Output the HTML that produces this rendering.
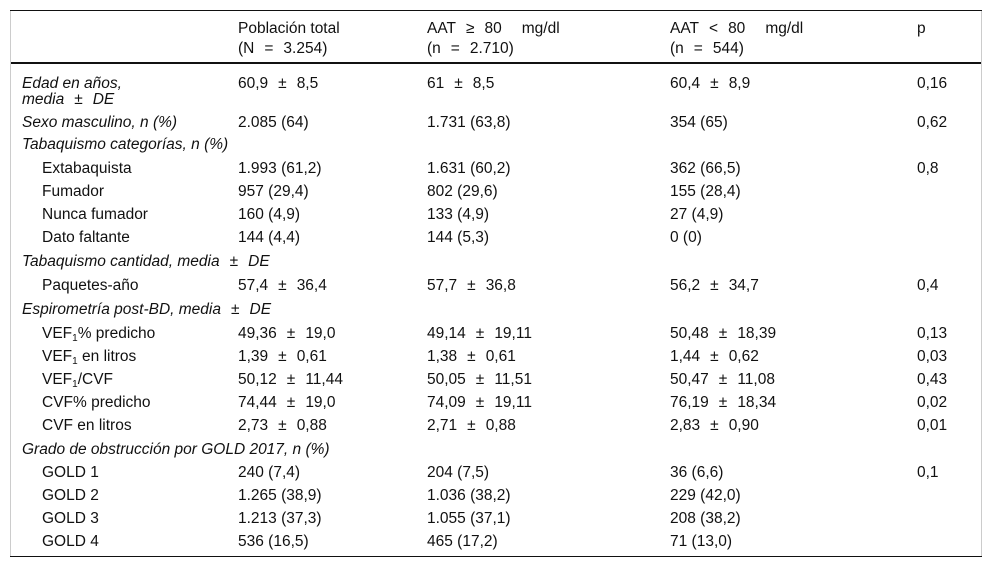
<!DOCTYPE html>
<html><head><meta charset="utf-8">
<style>
body{margin:0;width:992px;height:570px;background:#fff;position:relative;font-family:"Liberation Sans",sans-serif;font-size:15.5px;color:#111;overflow:hidden}
.r{position:absolute;line-height:16px;white-space:nowrap}
.g{margin:0 10px}
.in{padding-left:20px}
.line{position:absolute;background:#111}
sub{font-size:10px;vertical-align:-3px;line-height:0}
#t{position:absolute;left:0;top:2px}
</style></head><body>
<div class="line" style="left:10px;top:10px;width:972px;height:1px"></div>
<div class="line" style="left:10px;top:62px;width:972px;height:2px"></div>
<div class="line" style="left:10px;top:556px;width:972px;height:1px"></div>
<div class="line" style="left:10px;top:11px;width:1px;height:545px;background:#ccc"></div>
<div class="line" style="left:981px;top:11px;width:1px;height:545px;background:#ccc"></div>
<div id="t"></div>
<script>
const X=[22,238,427,670,917];
const I='<span class=in></span>';
const rows=[
 [19,["","Población total","AAT<span class=g>≥</span>80<span class=g></span>mg/dl","AAT<span class=g>&lt;</span>80<span class=g></span>mg/dl","p"]],
 [39,["","(N<span class=g>=</span>3.254)","(n<span class=g>=</span>2.710)","(n<span class=g>=</span>544)",""]],
 [74,["<i>Edad en años,</i>","60,9<span class=g>±</span>8,5","61<span class=g>±</span>8,5","60,4<span class=g>±</span>8,9","0,16"]],
 [90,["<i>media<span class=g>±</span>DE</i>","","","",""]],
 [113,["<i>Sexo masculino, n (%)</i>","2.085 (64)","1.731 (63,8)","354 (65)","0,62"]],
 [135,["<i>Tabaquismo categorías, n (%)</i>","","","",""]],
 [159,[I+"Extabaquista","1.993 (61,2)","1.631 (60,2)","362 (66,5)","0,8"]],
 [182,[I+"Fumador","957 (29,4)","802 (29,6)","155 (28,4)",""]],
 [205,[I+"Nunca fumador","160 (4,9)","133 (4,9)","27 (4,9)",""]],
 [228,[I+"Dato faltante","144 (4,4)","144 (5,3)","0 (0)",""]],
 [252,["<i>Tabaquismo cantidad, media<span class=g>±</span>DE</i>","","","",""]],
 [276,[I+"Paquetes-año","57,4<span class=g>±</span>36,4","57,7<span class=g>±</span>36,8","56,2<span class=g>±</span>34,7","0,4"]],
 [300,["<i>Espirometría post-BD, media<span class=g>±</span>DE</i>","","","",""]],
 [324,[I+"VEF<sub>1</sub>% predicho","49,36<span class=g>±</span>19,0","49,14<span class=g>±</span>19,11","50,48<span class=g>±</span>18,39","0,13"]],
 [347,[I+"VEF<sub>1</sub> en litros","1,39<span class=g>±</span>0,61","1,38<span class=g>±</span>0,61","1,44<span class=g>±</span>0,62","0,03"]],
 [370,[I+"VEF<sub>1</sub>/CVF","50,12<span class=g>±</span>11,44","50,05<span class=g>±</span>11,51","50,47<span class=g>±</span>11,08","0,43"]],
 [393,[I+"CVF% predicho","74,44<span class=g>±</span>19,0","74,09<span class=g>±</span>19,11","76,19<span class=g>±</span>18,34","0,02"]],
 [416,[I+"CVF en litros","2,73<span class=g>±</span>0,88","2,71<span class=g>±</span>0,88","2,83<span class=g>±</span>0,90","0,01"]],
 [440,["<i>Grado de obstrucción por GOLD 2017, n (%)</i>","","","",""]],
 [463,[I+"GOLD 1","240 (7,4)","204 (7,5)","36 (6,6)","0,1"]],
 [486,[I+"GOLD 2","1.265 (38,9)","1.036 (38,2)","229 (42,0)",""]],
 [509,[I+"GOLD 3","1.213 (37,3)","1.055 (37,1)","208 (38,2)",""]],
 [532,[I+"GOLD 4","536 (16,5)","465 (17,2)","71 (13,0)",""]]
];
const t=document.getElementById('t');
rows.forEach(([y,cells],ri)=>{cells.forEach((c,ci)=>{if(!c)return;
 const d=document.createElement('div');d.className='r';
 d.style.left=X[ci]+'px';d.style.top=y+'px';d.innerHTML=c;
 
 
 t.appendChild(d);});});
</script>
</body></html>
